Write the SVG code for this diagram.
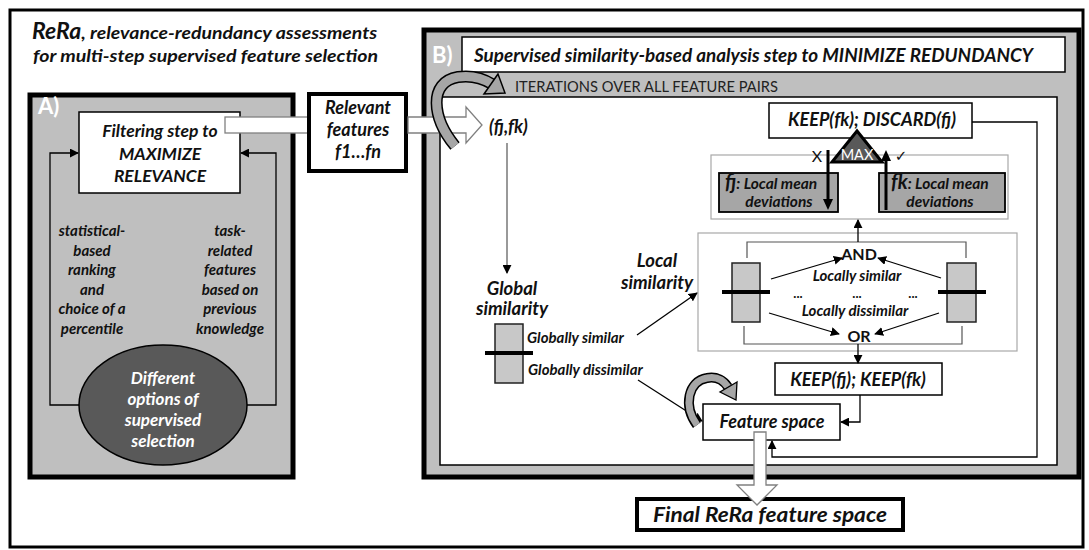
<svg xmlns="http://www.w3.org/2000/svg" width="1089" height="550" viewBox="0 0 1089 550">
<defs>
<style>
text{font-family:Lato,"Liberation Sans","DejaVu Sans",sans-serif}
.bi{font-weight:bold;font-style:italic;fill:#111}
.w{fill:#fff}
.c{text-anchor:middle}
.ln{fill:none;stroke:#000;stroke-width:1.3}
.gl{fill:none;stroke:#555;stroke-width:1.2}
.lg{fill:none;stroke:#a8a8a8;stroke-width:1.2}
.fat{fill:#fff;stroke:#808080;stroke-width:1.3}
.panel{fill:#bfbfbf;stroke:#000;stroke-width:5}
.box{fill:#fff;stroke:#000;stroke-width:1.5}
.sbox{fill:#c8c8c8;stroke:#222;stroke-width:1.5}
.mbox{fill:#a6a6a6;stroke:#000;stroke-width:1.8}
.bar{stroke:#000;stroke-width:4}
.curve{fill:none;stroke-linecap:butt}
</style>
<marker id="ah" viewBox="0 0 10 10" refX="9" refY="5" markerWidth="9" markerHeight="9" markerUnits="userSpaceOnUse" orient="auto"><path d="M0,0 L10,5 L0,10 z" fill="#000"/></marker>
</defs>
<rect x="0" y="0" width="1089" height="550" fill="#fff"/>
<rect x="10" y="10" width="1073" height="537" fill="none" stroke="#000" stroke-width="3"/>

<g id="title">
<text x="32" y="39" class="bi"><tspan font-size="23">ReRa</tspan><tspan font-size="17.5" textLength="296" lengthAdjust="spacingAndGlyphs">, relevance-redundancy assessments</tspan></text>
<text x="33" y="62" class="bi" font-size="17.5" textLength="345" lengthAdjust="spacingAndGlyphs">for multi-step supervised feature selection</text>
</g>

<g id="panelA">
<rect x="30" y="95" width="263" height="382" class="panel"/>
<text x="38" y="114" font-size="22" font-weight="bold" class="w">A)</text>
<ellipse cx="163" cy="405" rx="84" ry="60" fill="#595959" stroke="#000" stroke-width="1.5"/>
<text class="bi c" font-size="17"><tspan x="163" y="384" fill="#fff">Different</tspan><tspan x="163" y="405" fill="#fff">options of</tspan><tspan x="163" y="426" fill="#fff">supervised</tspan><tspan x="163" y="447" fill="#fff">selection</tspan></text>
<text class="bi c" font-size="15"><tspan x="92" y="236">statistical-</tspan><tspan x="92" y="256">based</tspan><tspan x="92" y="275">ranking</tspan><tspan x="92" y="295">and</tspan><tspan x="92" y="314">choice of a</tspan><tspan x="92" y="334">percentile</tspan></text>
<text class="bi c" font-size="15"><tspan x="230" y="236">task-</tspan><tspan x="230" y="256">related</tspan><tspan x="230" y="275">features</tspan><tspan x="230" y="295">based on</tspan><tspan x="230" y="314">previous</tspan><tspan x="230" y="334">knowledge</tspan></text>
</g>

<g id="filter">
<rect x="79" y="112" width="161" height="81" class="box"/>
<text class="bi c" font-size="17.5"><tspan x="160" y="137">Filtering step to</tspan><tspan x="160" y="160">MAXIMIZE</tspan><tspan x="160" y="182">RELEVANCE</tspan></text>
</g>

<g id="connectorsA">
<polyline points="79,405 50,405 50,153 78,153" class="ln" marker-end="url(#ah)"/>
<polyline points="247,405 276,405 276,153 241,153" class="ln" marker-end="url(#ah)"/>
<rect x="225" y="117" width="84" height="16" class="fat"/>
</g>

<g id="relevant">
<rect x="309" y="94" width="97" height="77" fill="#fff" stroke="#000" stroke-width="4"/>
<text class="bi c" font-size="18"><tspan x="358" y="114">Relevant</tspan><tspan x="358" y="136">features</tspan><tspan x="358" y="158">f1…fn</tspan></text>
</g>

<g id="panelB">
<rect x="424" y="30" width="655" height="447" class="panel"/>
<text x="432" y="63" font-size="22" font-weight="bold" class="w">B)</text>
<rect x="462" y="37" width="603" height="35" class="box"/>
<text x="474" y="62" class="bi" font-size="18" textLength="559" lengthAdjust="spacingAndGlyphs">Supervised similarity-based analysis step to MINIMIZE REDUNDANCY</text>
<text x="515" y="92" font-size="15" fill="#222" textLength="263" lengthAdjust="spacingAndGlyphs">ITERATIONS OVER ALL FEATURE PAIRS</text>
<rect x="440" y="97" width="617" height="368" fill="#fff" stroke="#000" stroke-width="1.5"/>
</g>

<g id="pair">
<text x="489" y="133" class="bi" font-size="18">(fj,fk)</text>
</g>

<g id="global">
<text class="bi c" font-size="18.5"><tspan x="512" y="295">Global</tspan><tspan x="512" y="315">similarity</tspan></text>
<rect x="495" y="324" width="28" height="59" class="sbox"/>
<line x1="485" y1="353" x2="533" y2="353" class="bar"/>
<text x="527" y="343" class="bi" font-size="15">Globally similar</text>
<text x="528" y="375" class="bi" font-size="15">Globally dissimilar</text>
</g>

<g id="localLabel">
<text class="bi c" font-size="18.5"><tspan x="657" y="267">Local</tspan><tspan x="657" y="289">similarity</tspan></text>
</g>

<g id="localDev">
<rect x="711" y="155" width="297" height="64" class="lg"/>
<rect x="719" y="173" width="119" height="39" class="mbox"/>
<text x="725" y="189" class="bi"><tspan font-size="20">fj</tspan><tspan font-size="15.5">: Local mean</tspan></text>
<text x="779" y="207" class="bi c" font-size="15.5">deviations</text>
<rect x="879" y="173" width="126" height="39" class="mbox"/>
<text x="891" y="189" class="bi"><tspan font-size="20">fk</tspan><tspan font-size="15.5">: Local mean</tspan></text>
<text x="940" y="207" class="bi c" font-size="15.5">deviations</text>
</g>

<g id="keepDiscard">
<rect x="769" y="103" width="203" height="35" class="box"/>
<text x="872" y="126" class="bi c" font-size="18">KEEP(fk); DISCARD(fj)</text>
</g>

<g id="max">
<line x1="828" y1="150" x2="828" y2="200" stroke="#000" stroke-width="3"/>
<polygon points="823,199 833,199 828,210" fill="#000"/>
<line x1="886" y1="210" x2="886" y2="160" stroke="#000" stroke-width="3"/>
<polygon points="881,161 891,161 886,150" fill="#000"/>
<text x="817" y="162" class="c" font-size="16" fill="#111">X</text>
<text x="901" y="161" class="c" font-size="15" fill="#111" font-family="DejaVu Sans">✓</text>
<polygon points="857,131 832,162 882,162" fill="#595959" stroke="#000" stroke-width="3"/>
<text x="857" y="160" class="c w" font-size="14.5">MAX</text>
</g>

<g id="localSim">
<rect x="698" y="233" width="319" height="118" class="lg"/>
<polyline points="747,258 747,242 966,242 966,258" class="gl"/>
<polyline points="744,326 744,344 962,344 962,326" class="gl"/>
<rect x="732" y="263" width="28" height="59" class="sbox"/>
<line x1="722" y1="292" x2="770" y2="292" class="bar"/>
<rect x="947" y="263" width="29" height="59" class="sbox"/>
<line x1="938" y1="292" x2="986" y2="292" class="bar"/>
<text x="859" y="260" class="c" font-size="16" font-weight="bold" fill="#111">AND</text>
<text x="859" y="342" class="c" font-size="16" font-weight="bold" fill="#111">OR</text>
<text x="857" y="281" class="bi c" font-size="15">Locally similar</text>
<text x="855" y="316" class="bi c" font-size="15">Locally dissimilar</text>
<text x="798" y="298" class="c" font-size="13" font-weight="bold" fill="#111">...</text>
<text x="857" y="298" class="c" font-size="13" font-weight="bold" fill="#111">...</text>
<text x="913" y="298" class="c" font-size="13" font-weight="bold" fill="#111">...</text>
</g>

<g id="keepKeep">
<rect x="775" y="363" width="167" height="32" class="box"/>
<text x="858" y="386" class="bi c" font-size="18">KEEP(fj); KEEP(fk)</text>
</g>

<g id="featureSpace">
<rect x="703" y="404" width="137" height="36" class="box"/>
<text x="772" y="428" class="bi c" font-size="18">Feature space</text>
</g>

<g id="final">
<rect x="637" y="499" width="266" height="31" fill="#fff" stroke="#000" stroke-width="4"/>
<text x="770" y="522" class="bi c" font-size="21" textLength="234" lengthAdjust="spacingAndGlyphs">Final ReRa feature space</text>
</g>

<g id="connectors">
<line x1="507" y1="143" x2="507" y2="273" class="gl" marker-end="url(#ah)"/>
<line x1="637" y1="335" x2="697" y2="293" class="ln" marker-end="url(#ah)"/>
<line x1="638" y1="380" x2="702" y2="421" class="ln" marker-end="url(#ah)"/>
<line x1="771" y1="279" x2="842" y2="258" class="ln" marker-end="url(#ah)"/>
<line x1="941" y1="278" x2="878" y2="258" class="ln" marker-end="url(#ah)"/>
<line x1="769" y1="313" x2="839" y2="334" class="ln" marker-end="url(#ah)"/>
<line x1="939" y1="313" x2="875" y2="334" class="ln" marker-end="url(#ah)"/>
<line x1="858" y1="242" x2="858" y2="220" class="ln" marker-end="url(#ah)"/>
<line x1="858" y1="344" x2="858" y2="363" class="ln" marker-end="url(#ah)"/>
<polyline points="972,122 1037,122 1037,457 772,457 772,441" class="ln" marker-end="url(#ah)"/>
<polyline points="860,395 860,422 841,422" class="ln" marker-end="url(#ah)"/>
<polygon points="408,117 466,117 466,107 482,125 466,143 466,133 408,133" class="fat"/>
<polygon points="754,432 766,432 766,485 777,485 757,505 737,485 754,485" class="fat"/>
<path d="M455,146 C432,118 428,82 458,77 C472,75 484,79 492,84" class="curve" stroke="#000" stroke-width="12"/>
<path d="M455,146 C432,118 428,82 458,77 C472,75 484,79 492,84" class="curve" stroke="#a6a6a6" stroke-width="9"/>
<polygon points="498,74 484,94 505,93" fill="#a6a6a6" stroke="#000" stroke-width="1.5"/>
<path d="M697,425 C683,406 688,381 707,378 C717,376 724,381 728,387" class="curve" stroke="#000" stroke-width="10"/>
<path d="M697,425 C683,406 688,381 707,378 C717,376 724,381 728,387" class="curve" stroke="#a6a6a6" stroke-width="7"/>
<polygon points="737,382 720,392 736,400" fill="#a6a6a6" stroke="#000" stroke-width="1.3"/>
</g>
</svg>
